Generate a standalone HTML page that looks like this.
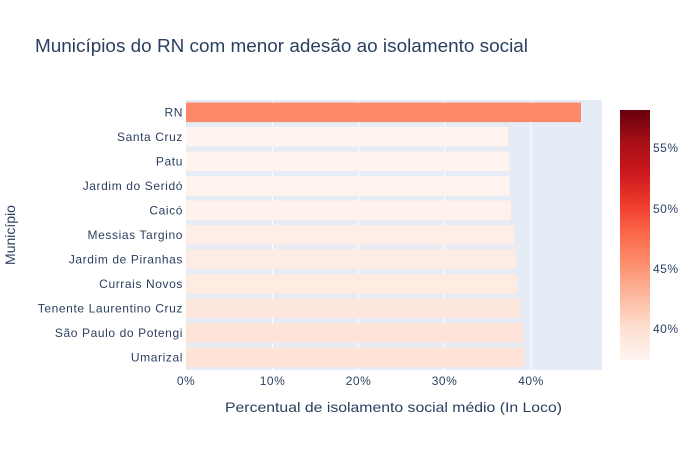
<!DOCTYPE html>
<html><head><meta charset="utf-8"><style>
body{margin:0;background:#fff;}
svg{font-family:"Liberation Sans",Arial,sans-serif;}
</style></head><body>
<svg width="700" height="450" xmlns="http://www.w3.org/2000/svg">
<defs><linearGradient id="cb" x1="0" y1="1" x2="0" y2="0">
<stop offset="0" stop-color="#fff5f0"/><stop offset="0.125" stop-color="#fee0d2"/>
<stop offset="0.25" stop-color="#fcbba1"/><stop offset="0.375" stop-color="#fc9272"/>
<stop offset="0.5" stop-color="#fb6a4a"/><stop offset="0.625" stop-color="#ef3b2c"/>
<stop offset="0.75" stop-color="#cb181d"/><stop offset="0.875" stop-color="#a50f15"/>
<stop offset="1" stop-color="#67000d"/></linearGradient></defs>
<text x="35" y="52" font-size="18" fill="#2a3f5f" textLength="493" lengthAdjust="spacingAndGlyphs">Municípios do RN com menor adesão ao isolamento social</text>
<rect x="186" y="100" width="416" height="270" fill="#e5ecf6"/>
<g stroke="#fff" stroke-width="1">
<line x1="272.5" y1="100" x2="272.5" y2="370"/><line x1="358.5" y1="100" x2="358.5" y2="370"/>
<line x1="444.5" y1="100" x2="444.5" y2="370"/><line x1="531" y1="100" x2="531" y2="370"/>
</g>
<g>
<rect x="186" y="102.5" width="395" height="19.6" fill="#fc8a6a"/>
<rect x="186" y="127" width="322" height="19.6" fill="#fff4ef"/>
<rect x="186" y="151.5" width="323" height="19.6" fill="#fff4ee"/>
<rect x="186" y="176" width="323.5" height="19.6" fill="#fff3ed"/>
<rect x="186" y="200.5" width="325" height="19.6" fill="#fff1eb"/>
<rect x="186" y="225" width="328" height="19.6" fill="#feeee7"/>
<rect x="186" y="249.5" width="330" height="19.6" fill="#feece4"/>
<rect x="186" y="274" width="331" height="19.6" fill="#feebe2"/>
<rect x="186" y="298.5" width="334" height="19.6" fill="#fee7dd"/>
<rect x="186" y="323" width="337" height="19.6" fill="#fee4d8"/>
<rect x="186" y="347.5" width="338" height="19.6" fill="#fee3d6"/>
</g>
<g font-size="12" fill="#2a3f5f" text-anchor="end" letter-spacing="0.6">
<text x="183" y="116.5">RN</text><text x="183" y="141">Santa Cruz</text>
<text x="183" y="165.5">Patu</text><text x="183" y="190">Jardim do Seridó</text>
<text x="183" y="214.5">Caicó</text><text x="183" y="239">Messias Targino</text>
<text x="183" y="263.5">Jardim de Piranhas</text><text x="183" y="288">Currais Novos</text>
<text x="183" y="312.5">Tenente Laurentino Cruz</text><text x="183" y="337">São Paulo do Potengi</text>
<text x="183" y="361.5">Umarizal</text>
</g>
<g font-size="12" fill="#2a3f5f" text-anchor="middle" letter-spacing="0.5">
<text x="186" y="385">0%</text><text x="272.5" y="385">10%</text><text x="358.5" y="385">20%</text>
<text x="444.5" y="385">30%</text><text x="531" y="385">40%</text>
</g>
<text x="225" y="412" font-size="14" fill="#2a3f5f" textLength="337" lengthAdjust="spacingAndGlyphs">Percentual de isolamento social médio (In Loco)</text>
<text transform="translate(15,235) rotate(-90)" font-size="14" fill="#2a3f5f" text-anchor="middle">Município</text>
<rect x="620" y="110" width="30" height="250" fill="url(#cb)"/>
<g font-size="12" fill="#2a3f5f" letter-spacing="0.5">
<text x="653" y="333">40%</text><text x="653" y="273">45%</text>
<text x="653" y="213">50%</text><text x="653" y="152">55%</text>
</g>
</svg>
</body></html>
